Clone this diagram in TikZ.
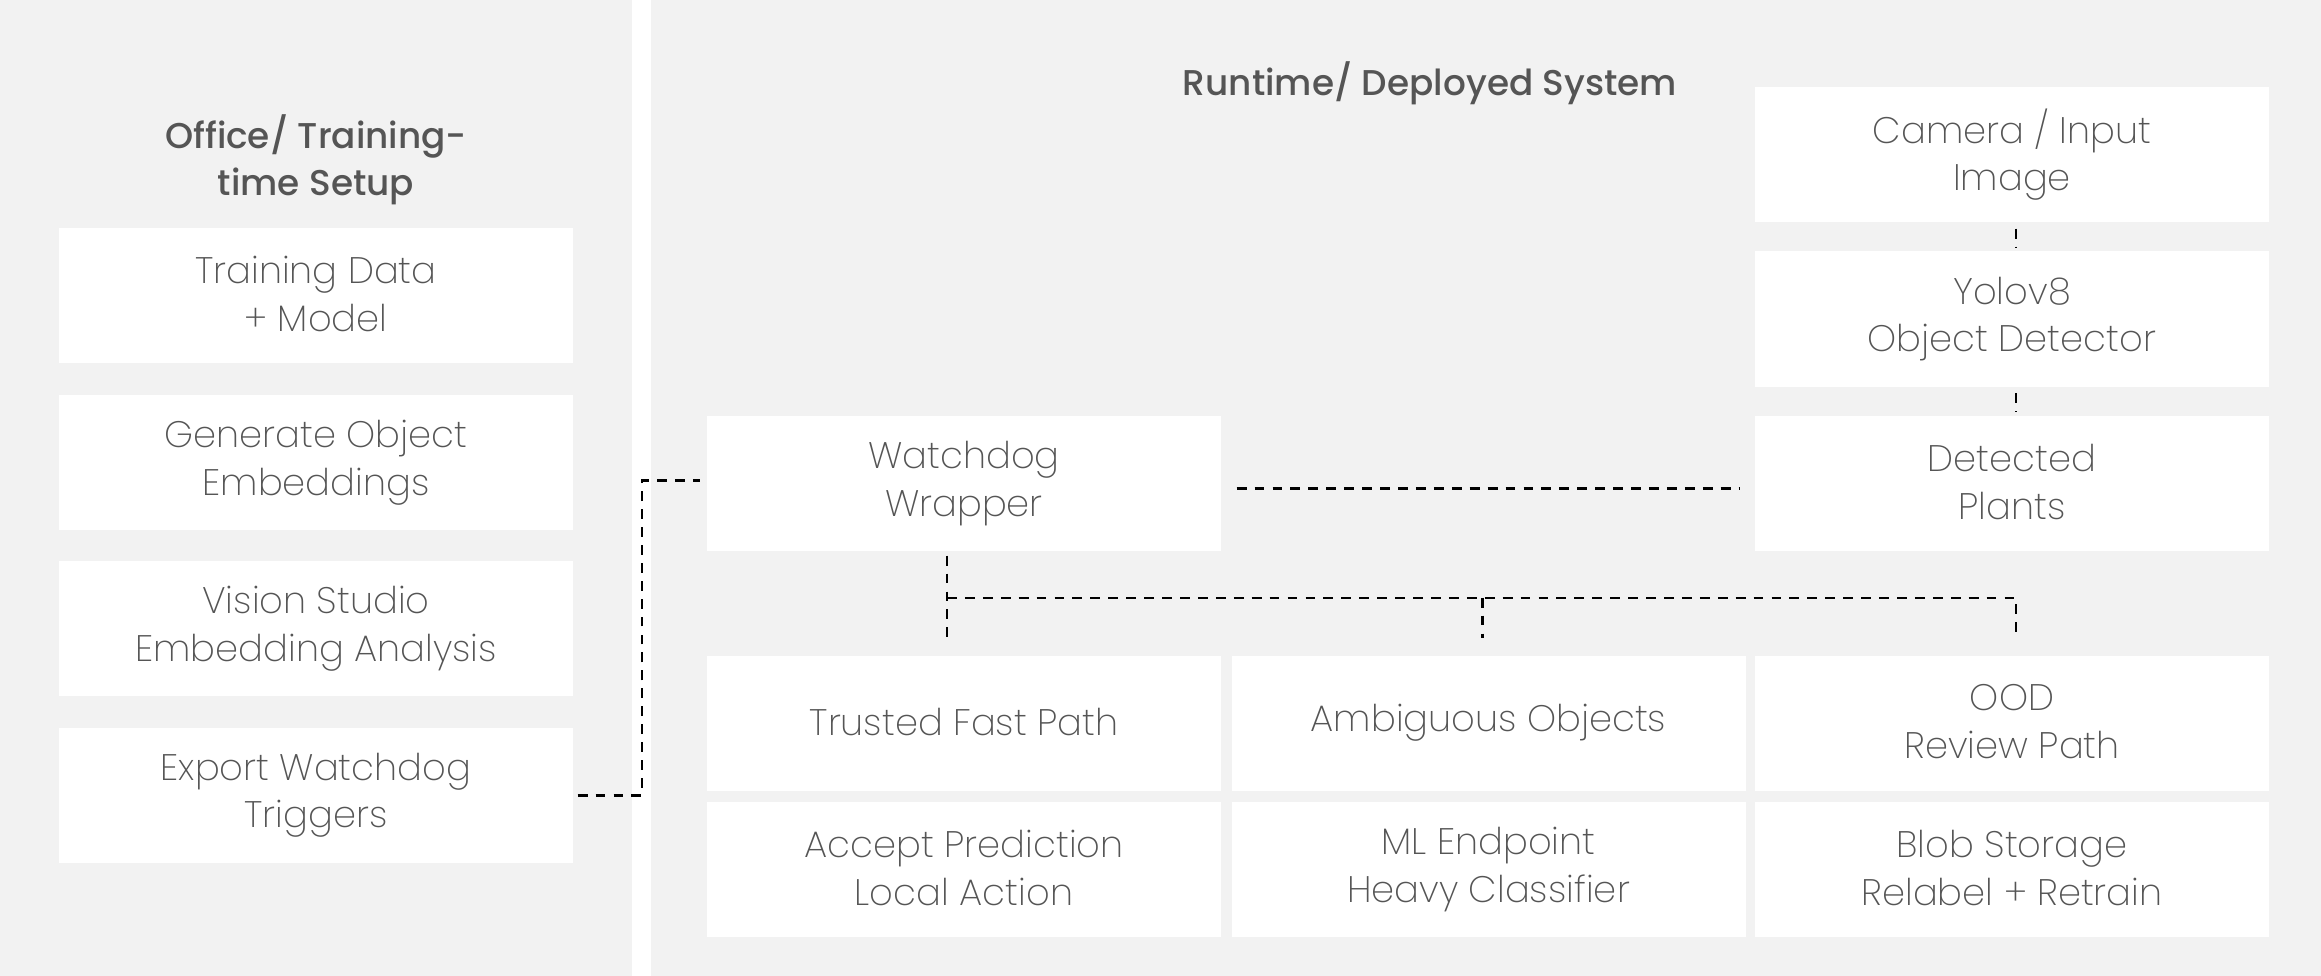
\documentclass[tikz,border=0pt]{standalone}
\usepackage{fontspec}
\setmainfont{Poppins}[UprightFont=* ExtraLight, BoldFont=* Medium]
\usepackage{tikz}
\usetikzlibrary{positioning, calc}

\definecolor{panelgray}{HTML}{F2F2F2}
\definecolor{txtgray}{HTML}{555555}

\newcommand{\topstrut}{\rule{0pt}{12.6pt}}
\newcommand{\botstrut}{\rule[-0.9pt]{0pt}{0.9pt}}

\begin{document}
\begin{tikzpicture}[
  font=\fontsize{10.5}{13.5}\selectfont,
  plain/.style={fill=white, align=center, text=txtgray,
    minimum width=5.14cm, minimum height=1.35cm, inner sep=0pt},
  box/.style={plain, execute at begin node=\topstrut, execute at end node=\botstrut},
  oneline/.style={plain, execute at end node=\botstrut},
  head/.style={align=center, text=txtgray, font=\fontsize{10.2}{13.5}\selectfont\bfseries},
  link/.style={draw=black, line width=0.6pt, dash pattern=on 2.8pt off 2.3pt},
]
  % canvas and the two panels
  \path[use as bounding box, fill=white] (0,0) rectangle (23.21,-9.76);
  \fill[panelgray] (0,0) rectangle (6.32,-9.76);
  \fill[panelgray] (6.51,0) rectangle (23.21,-9.76);

  % office / training side
  \node[head] (offhead) at (3.16,-1.6) {Office/ Training-\\time Setup};
  \node[box] (train)  at (3.16,-2.955) {Training Data\\+ Model};
  \node[box] (embed)  at (3.16,-4.625) {Generate Object\\Embeddings};
  \node[box] (studio) at (3.16,-6.285) {Vision Studio\\Embedding Analysis};
  \node[box] (export) at (3.16,-7.955) {Export Watchdog\\Triggers};

  % runtime side
  \node[head] (runhead) at (14.30,-0.83) {Runtime/ Deployed System};
  \node[box] (camera)   at (20.12,-1.545) {Camera / Input\\Image};
  \node[box] (yolo)     at (20.12,-3.19)  {Yolov8\\Object Detector};
  \node[box] (detected) at (20.12,-4.835) {Detected\\Plants};
  \node[box] (watchdog) at (9.64,-4.835)  {Watchdog\\Wrapper};

  \node[oneline] (trusted) at (9.64,-7.23)   {Trusted Fast Path};
  \node[oneline] (ambig)   at (14.885,-7.23) {Ambiguous Objects};
  \node[box] (ood)     at (20.12,-7.23)  {OOD\\Review Path};
  \node[box] (accept)  at (9.64,-8.695)   {Accept Prediction\\Local Action};
  \node[box] (mlend)   at (14.885,-8.695) {ML Endpoint\\Heavy Classifier};
  \node[box] (blob)    at (20.12,-8.695)  {Blob Storage\\Relabel + Retrain};

  % dashed links
  \draw[link] ([xshift=0.04cm,yshift=-0.06cm]camera.south) -- ([xshift=0.04cm,yshift=0.03cm]yolo.north);
  \draw[link] ([xshift=0.04cm,yshift=-0.06cm]yolo.south) -- ([xshift=0.04cm,yshift=0.03cm]detected.north);
  \draw[link] ([xshift=0.15cm,yshift=-0.05cm]watchdog.east) -- ([xshift=-0.14cm,yshift=-0.05cm]detected.west);

  \coordinate (bar) at ($(watchdog.south)+(-0.17,-0.46)$);
  \draw[link] ([xshift=-0.17cm,yshift=-0.04cm]watchdog.south) -- ([xshift=-0.17cm,yshift=0.17cm]trusted.north);
  \draw[link] (bar) -| ([xshift=0.04cm,yshift=0.17cm]ood.north);
  \draw[link] (bar -| ambig.north) ++(-0.06,0) -- ([xshift=-0.06cm,yshift=0.17cm]ambig.north);

  \draw[link] ([xshift=0.04cm]export.east) -- ++(0.64,0) |- ([xshift=-0.06cm,yshift=0.03cm]watchdog.west);
\end{tikzpicture}
\end{document}
